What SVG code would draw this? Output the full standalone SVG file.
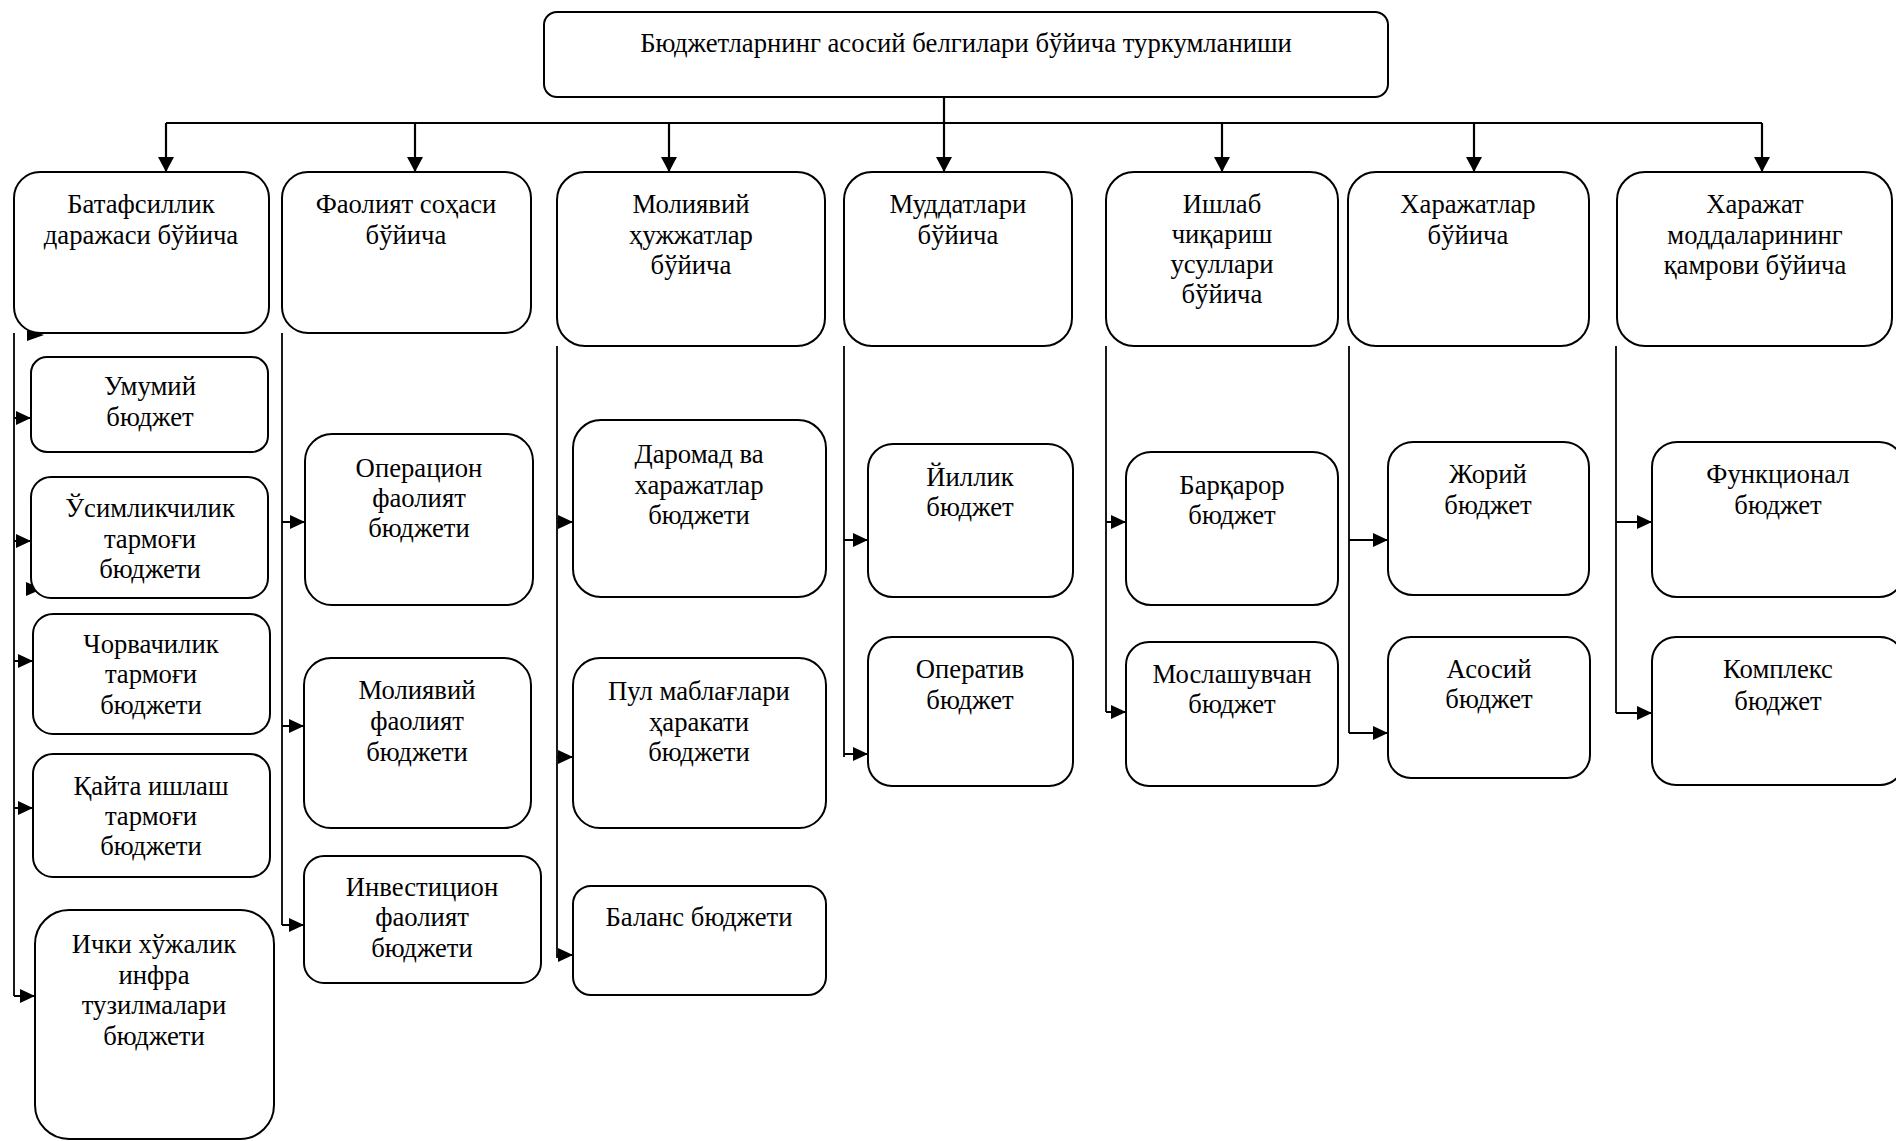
<svg xmlns="http://www.w3.org/2000/svg" width="1896" height="1141" viewBox="0 0 1896 1141">
<style>
  .box { fill: #ffffff; stroke: #000000; stroke-width: 2; }
  .lbl { font-family: "Liberation Serif", "Times New Roman", serif; font-size: 26.7px; fill: #000000; text-anchor: middle; }
  .top { fill: none; stroke: #000000; stroke-width: 2.2; }
  .spine { fill: none; stroke: #000000; stroke-width: 1.8; }
  .arr { fill: none; stroke: #000000; stroke-width: 2; marker-end: url(#ah); }
  .arrt { fill: none; stroke: #000000; stroke-width: 2.2; marker-end: url(#ahd); }
</style>
<defs>
  <marker id="ah" viewBox="0 0 10 10" markerUnits="userSpaceOnUse" markerWidth="15" markerHeight="14" refX="10" refY="5" orient="auto" preserveAspectRatio="none">
    <path d="M0,0 L10,5 L0,10 z" fill="#000000"/>
  </marker>
  <marker id="ahd" viewBox="0 0 10 10" markerUnits="userSpaceOnUse" markerWidth="15" markerHeight="16" refX="10" refY="5" orient="auto" preserveAspectRatio="none">
    <path d="M0,0 L10,5 L0,10 z" fill="#000000"/>
  </marker>
</defs>
<rect width="1896" height="1141" fill="#ffffff"/>

<g id="connectors">
  <path class="top" d="M944,97 V123"/>
  <path class="top" d="M166,123 H1762"/>
  <path class="arrt" d="M166,123 V172"/>
  <path class="arrt" d="M415,123 V172"/>
  <path class="arrt" d="M669,123 V172"/>
  <path class="arrt" d="M944,123 V172"/>
  <path class="arrt" d="M1222,123 V172"/>
  <path class="arrt" d="M1474,123 V172"/>
  <path class="arrt" d="M1762,123 V172"/>

  <path class="spine" d="M14,333 V996"/>
  <path class="arr" d="M14,418 H31"/>
  <path class="arr" d="M14,541 H31"/>
  <path class="arr" d="M14,661 H33"/>
  <path class="arr" d="M14,808 H33"/>
  <path class="arr" d="M14,996 H35"/>
  <polygon points="27,329 44,335 27,341" fill="#000000"/>
  <polygon points="26,582 42,589 26,596" fill="#000000"/>

  <path class="spine" d="M282,333 V925"/>
  <path class="arr" d="M282,522 H305"/>
  <path class="arr" d="M282,726 H304"/>
  <path class="arr" d="M282,925 H304"/>

  <path class="spine" d="M557,346 V958"/>
  <path class="arr" d="M557,522 H573"/>
  <path class="arr" d="M557,757 H573"/>
  <path class="arr" d="M557,955 H573"/>

  <path class="spine" d="M844,346 V757"/>
  <path class="arr" d="M844,540 H868"/>
  <path class="arr" d="M844,754 H868"/>

  <path class="spine" d="M1106,346 V712"/>
  <path class="arr" d="M1106,522 H1126"/>
  <path class="arr" d="M1106,712 H1126"/>

  <path class="spine" d="M1349,346 V733"/>
  <path class="arr" d="M1349,540 H1388"/>
  <path class="arr" d="M1349,733 H1388"/>

  <path class="spine" d="M1616,346 V713"/>
  <path class="arr" d="M1616,522 H1652"/>
  <path class="arr" d="M1616,713 H1652"/>
</g>

<g id="root">
  <rect class="box" x="544" y="12" width="844" height="85" rx="13"/>
  <text class="lbl" x="966" y="52">Бюджетларнинг асосий белгилари бўйича туркумланиши</text>
</g>

<g id="c1">
  <rect class="box" x="14" y="172" width="255" height="161" rx="26"/>
  <text class="lbl" x="141" y="213">Батафсиллик</text>
  <text class="lbl" x="141" y="244">даражаси бўйича</text>
</g>
<g id="c2">
  <rect class="box" x="282" y="172" width="249" height="161" rx="26"/>
  <text class="lbl" x="406" y="213">Фаолият соҳаси</text>
  <text class="lbl" x="406" y="244">бўйича</text>
</g>
<g id="c3">
  <rect class="box" x="557" y="172" width="268" height="174" rx="28"/>
  <text class="lbl" x="691" y="213">Молиявий</text>
  <text class="lbl" x="691" y="244">ҳужжатлар</text>
  <text class="lbl" x="691" y="274">бўйича</text>
</g>
<g id="c4">
  <rect class="box" x="844" y="172" width="228" height="174" rx="28"/>
  <text class="lbl" x="958" y="213">Муддатлари</text>
  <text class="lbl" x="958" y="244">бўйича</text>
</g>
<g id="c5">
  <rect class="box" x="1106" y="172" width="232" height="174" rx="28"/>
  <text class="lbl" x="1222" y="213">Ишлаб</text>
  <text class="lbl" x="1222" y="243">чиқариш</text>
  <text class="lbl" x="1222" y="273">усуллари</text>
  <text class="lbl" x="1222" y="303">бўйича</text>
</g>
<g id="c6">
  <rect class="box" x="1348" y="172" width="241" height="174" rx="28"/>
  <text class="lbl" x="1468" y="213">Харажатлар</text>
  <text class="lbl" x="1468" y="244">бўйича</text>
</g>
<g id="c7">
  <rect class="box" x="1617" y="172" width="275" height="174" rx="28"/>
  <text class="lbl" x="1755" y="213">Харажат</text>
  <text class="lbl" x="1755" y="244">моддаларининг</text>
  <text class="lbl" x="1755" y="274">қамрови бўйича</text>
</g>

<g id="n-umumiy">
  <rect class="box" x="31" y="357" width="237" height="95" rx="16"/>
  <text class="lbl" x="150" y="395">Умумий</text>
  <text class="lbl" x="150" y="426">бюджет</text>
</g>
<g id="n-usimlik">
  <rect class="box" x="31" y="477" width="237" height="121" rx="20"/>
  <text class="lbl" x="150" y="517">Ўсимликчилик</text>
  <text class="lbl" x="150" y="548">тармоғи</text>
  <text class="lbl" x="150" y="578">бюджети</text>
</g>
<g id="n-chorva">
  <rect class="box" x="33" y="614" width="237" height="120" rx="20"/>
  <text class="lbl" x="151" y="653">Чорвачилик</text>
  <text class="lbl" x="151" y="683">тармоғи</text>
  <text class="lbl" x="151" y="714">бюджети</text>
</g>
<g id="n-qayta">
  <rect class="box" x="33" y="754" width="237" height="123" rx="20"/>
  <text class="lbl" x="151" y="795">Қайта ишлаш</text>
  <text class="lbl" x="151" y="825">тармоғи</text>
  <text class="lbl" x="151" y="855">бюджети</text>
</g>
<g id="n-ichki">
  <rect class="box" x="35" y="910" width="239" height="229" rx="34"/>
  <text class="lbl" x="154" y="953">Ички хўжалик</text>
  <text class="lbl" x="154" y="984">инфра</text>
  <text class="lbl" x="154" y="1014">тузилмалари</text>
  <text class="lbl" x="154" y="1045">бюджети</text>
</g>

<g id="n-operatsion">
  <rect class="box" x="305" y="434" width="228" height="171" rx="27"/>
  <text class="lbl" x="419" y="477">Операцион</text>
  <text class="lbl" x="419" y="507">фаолият</text>
  <text class="lbl" x="419" y="537">бюджети</text>
</g>
<g id="n-moliyaviy-f">
  <rect class="box" x="304" y="658" width="227" height="170" rx="27"/>
  <text class="lbl" x="417" y="699">Молиявий</text>
  <text class="lbl" x="417" y="730">фаолият</text>
  <text class="lbl" x="417" y="761">бюджети</text>
</g>
<g id="n-investitsion">
  <rect class="box" x="304" y="856" width="237" height="127" rx="20"/>
  <text class="lbl" x="422" y="896">Инвестицион</text>
  <text class="lbl" x="422" y="926">фаолият</text>
  <text class="lbl" x="422" y="957">бюджети</text>
</g>

<g id="n-daromad">
  <rect class="box" x="573" y="420" width="253" height="177" rx="28"/>
  <text class="lbl" x="699" y="463">Даромад ва</text>
  <text class="lbl" x="699" y="494">харажатлар</text>
  <text class="lbl" x="699" y="524">бюджети</text>
</g>
<g id="n-pul">
  <rect class="box" x="573" y="658" width="253" height="170" rx="27"/>
  <text class="lbl" x="699" y="700">Пул маблағлари</text>
  <text class="lbl" x="699" y="731">ҳаракати</text>
  <text class="lbl" x="699" y="761">бюджети</text>
</g>
<g id="n-balans">
  <rect class="box" x="573" y="886" width="253" height="109" rx="18"/>
  <text class="lbl" x="699" y="926">Баланс бюджети</text>
</g>

<g id="n-yillik">
  <rect class="box" x="868" y="444" width="205" height="153" rx="25"/>
  <text class="lbl" x="970" y="486">Йиллик</text>
  <text class="lbl" x="970" y="516">бюджет</text>
</g>
<g id="n-operativ">
  <rect class="box" x="868" y="637" width="205" height="149" rx="24"/>
  <text class="lbl" x="970" y="678">Оператив</text>
  <text class="lbl" x="970" y="709">бюджет</text>
</g>

<g id="n-barqaror">
  <rect class="box" x="1126" y="452" width="212" height="153" rx="25"/>
  <text class="lbl" x="1232" y="494">Барқарор</text>
  <text class="lbl" x="1232" y="524">бюджет</text>
</g>
<g id="n-moslash">
  <rect class="box" x="1126" y="642" width="212" height="144" rx="23"/>
  <text class="lbl" x="1232" y="683">Мослашувчан</text>
  <text class="lbl" x="1232" y="713">бюджет</text>
</g>

<g id="n-joriy">
  <rect class="box" x="1388" y="442" width="201" height="153" rx="25"/>
  <text class="lbl" x="1488" y="483">Жорий</text>
  <text class="lbl" x="1488" y="514">бюджет</text>
</g>
<g id="n-asosiy">
  <rect class="box" x="1388" y="637" width="202" height="141" rx="23"/>
  <text class="lbl" x="1489" y="678">Асосий</text>
  <text class="lbl" x="1489" y="708">бюджет</text>
</g>

<g id="n-funktsional">
  <rect class="box" x="1652" y="442" width="252" height="155" rx="25"/>
  <text class="lbl" x="1778" y="483">Функционал</text>
  <text class="lbl" x="1778" y="514">бюджет</text>
</g>
<g id="n-kompleks">
  <rect class="box" x="1652" y="637" width="252" height="148" rx="24"/>
  <text class="lbl" x="1778" y="678">Комплекс</text>
  <text class="lbl" x="1778" y="710">бюджет</text>
</g>
</svg>
